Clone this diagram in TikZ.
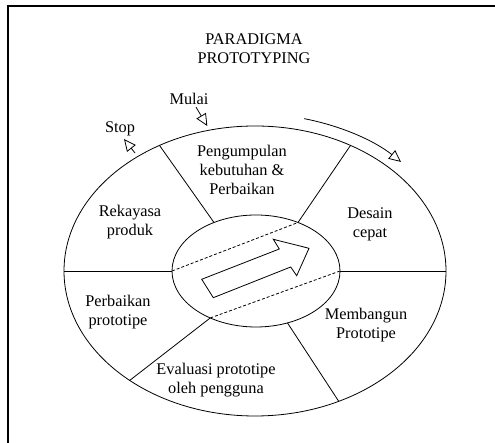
\documentclass[tikz,border=0pt]{standalone}
\usepackage{fontspec}
\setmainfont{Liberation Serif}
\usetikzlibrary{arrows.meta}

\begin{document}
\begin{tikzpicture}[x=1pt,y=1pt,line width=0.8pt,
  lbl/.style={font=\fontsize{16.3pt}{19pt}\selectfont, align=center, inner sep=0pt},
  opentip/.style={-{Triangle[open,length=12pt,width=11pt]}},
  garis/.style={dash pattern=on 3pt off 2pt}]
\useasboundingbox (0,0) rectangle (495,443);
\draw [line width=1.6pt] (8,-20) rectangle (520,437);

\node (title) at (254,394.5) [lbl] {PARADIGMA\\PROTOTYPING};

% elips luar dan dalam
\coordinate (c) at (255,172);
\coordinate (ci) at (256,172);
\draw (c) ellipse [x radius=191, y radius=145];
\draw (ci) ellipse [x radius=84, y radius=56];

% titik pada elips
\foreach \a in {0,60,120,180,229,237,292,296} {
  \path (c) ++(\a:191 and 145) coordinate (o\a);
  \path (ci) ++(\a:84 and 56) coordinate (i\a);
}
\draw (o0) -- (i0);
\draw (o180) -- (i180);
\draw (o60) -- (i60);
\draw (o120) -- (i120);
\draw (o229) -- (i237);
\draw (o296) -- (i292);
\draw [garis] (i180) -- (i60);
\draw [garis] (i237) -- (i0);

% panah di tengah
\draw (201.7,163.7) -- (213.3,145.3) -- (290.7,176) -- (296.7,167.3)
  -- (309,194.7) -- (273.3,203.7) -- (279.3,194) -- cycle;

% mulai & stop
\node (mulai) at (189,344) [lbl] {Mulai};
\coordinate (mulaiend) at (207.3,317);
\draw [opentip] ([xshift=7pt,yshift=-2pt]mulai.south) -- (mulaiend);
\node (stop) at (120,314.5) [lbl] {Stop};
\coordinate (stopstart) at (135,290);
\draw [opentip] (stopstart) -- ([xshift=4pt,yshift=-3pt]stop.south);

% arah putaran
\draw [opentip] (c) ++(76:203 and 157) arc [start angle=76, end angle=44, x radius=203, y radius=157];

\node (kumpul) at (242,273) [lbl] {Pengumpulan\\kebutuhan \&\\Perbaikan};
\node (desain) at (370,219) [lbl] {Desain\\cepat};
\node (rekayasa) at (130,220.5) [lbl] {Rekayasa\\produk};
\node (perbaikan) at (118,130.5) [lbl] {Perbaikan\\prototipe};
\node (bangun) at (366,117.5) [lbl] {Membangun\\Prototipe};
\node (evaluasi) at (216,62.5) [lbl] {Evaluasi prototipe\\oleh pengguna};
\end{tikzpicture}
\end{document}
